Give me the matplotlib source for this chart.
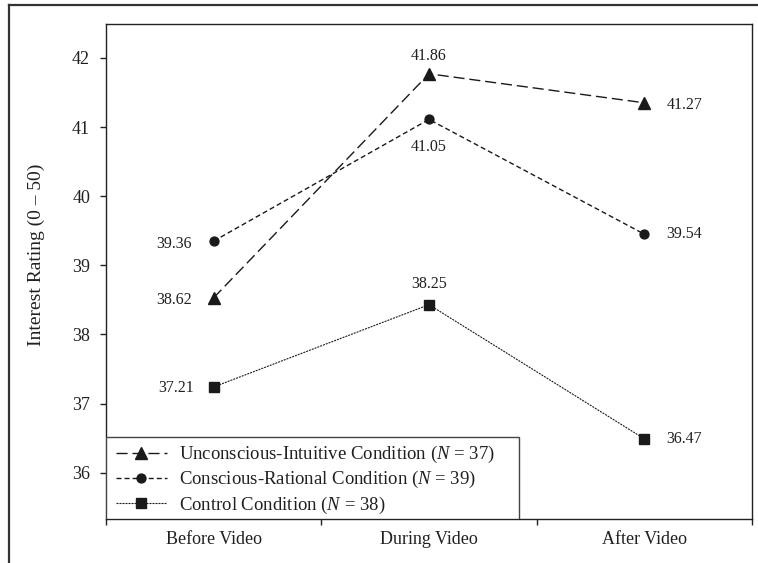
import matplotlib
matplotlib.use("Agg")
import matplotlib.pyplot as plt
from matplotlib.patches import Rectangle
from matplotlib.lines import Line2D

# ---- data ----
categories = ["Before Video", "During Video", "After Video"]
series_names = [
    "Unconscious-Intuitive Condition ($\\mathit{N}$ = 37)",
    "Conscious-Rational Condition ($\\mathit{N}$ = 39)",
    "Control Condition ($\\mathit{N}$ = 38)",
]
# plotted positions (as drawn in the figure)
unconscious = [38.53, 41.77, 41.35]
conscious = [39.35, 41.11, 39.45]
control = [37.24, 38.43, 36.49]
# printed value labels
unconscious_labels = ["38.62", "41.86", "41.27"]
conscious_labels = ["39.36", "41.05", "39.54"]
control_labels = ["37.21", "38.25", "36.47"]
yticks = [36, 37, 38, 39, 40, 41, 42]

plt.rcParams['font.family'] = ['Liberation Serif', 'DejaVu Serif']
plt.rcParams['mathtext.fontset'] = 'custom'
plt.rcParams['mathtext.it'] = 'Liberation Serif:italic'
plt.rcParams['mathtext.rm'] = 'Liberation Serif'
TXT = '#231f20'

fig = plt.figure(figsize=(7.58, 5.63), dpi=100)
W, H = 758, 563
ax = fig.add_axes([106 / W, 1 - 519 / H, (752 - 106) / W, (519 - 24) / H])

x = list(range(len(categories)))
styles = [
    dict(marker='^', ms=8.0, lw=1.0, dashes=(8, 3.5)),
    dict(marker='o', ms=6.4, lw=1.0, dashes=(3.6, 2.2)),
    dict(marker='s', ms=7.0, lw=0.8, dashes=(1.8, 0.9)),
]
all_series = [unconscious, conscious, control]
handles = []
for vals, st, name in zip(all_series, styles, series_names):
    ln, = ax.plot(x, vals, color='#1a1a1a', marker=st['marker'], ms=st['ms'],
                  lw=st['lw'], dashes=st['dashes'], mec='#1a1a1a', mfc='#1a1a1a',
                  label=name)
    handles.append(ln)

# value labels: (offset x px, offset y px, ha)
offsets = {
    0: [(-22, -2, 'right'), (-22, -3, 'right'), (-20, -1, 'right')],
    1: [(0, 18, 'center'), (0, -28, 'center'), (0, 21, 'center')],
    2: [(22, -2, 'left'), (22, 0, 'left'), (22, 0, 'left')],
}
all_labels = [unconscious_labels, conscious_labels, control_labels]
for si, (vals, labs) in enumerate(zip(all_series, all_labels)):
    for xi in x:
        dx, dy, ha = offsets[xi][si]
        ax.annotate(labs[xi], (xi, vals[xi]), xytext=(dx, dy),
                    textcoords='offset pixels', ha=ha, va='center',
                    fontsize=11.5, color=TXT)

ax.set_xlim(-0.5, 2.5)
ax.set_ylim(35.33, 42.49)
ax.set_yticks(yticks)
ax.set_yticklabels([str(t) for t in yticks])
ax.set_xticks([-0.5, 0.5, 1.5, 2.5])
ax.set_xticklabels([])
ax.set_xticks(x, minor=True)
ax.set_xticklabels(categories, minor=True)
ax.tick_params(axis='x', which='major', direction='out', length=4.5, width=1.0, color='#222')
ax.tick_params(axis='x', which='minor', length=0, pad=9, labelsize=13, labelcolor=TXT)
ax.tick_params(axis='y', direction='out', length=4.5, width=1.0, color='#222',
               pad=7, labelsize=13, labelcolor=TXT)
for sp in ax.spines.values():
    sp.set_linewidth(1.0)
    sp.set_color('#222')

ax.set_ylabel("Interest Rating (0 \u2013 50)", fontsize=14, color=TXT)
ax.yaxis.set_label_coords((45 - 106) / 646, (519 - 255) / 495)

# legend box
ax.add_patch(Rectangle((0, 0), (519 - 106) / 646, (519 - 437) / 495,
                       transform=ax.transAxes, fill=True, facecolor='white',
                       edgecolor='#444', lw=1.0, zorder=5))
leg = ax.legend(handles=handles, loc='upper left',
                bbox_to_anchor=((116 - 106) / 646, (519 - 444) / 495),
                frameon=False, fontsize=13.5, numpoints=1, handlelength=2.7,
                handletextpad=0.64, labelspacing=0.22, borderpad=0, borderaxespad=0)
leg.set_zorder(6)
for t in leg.get_texts():
    t.set_color(TXT)

# outer partial frame
fig.add_artist(Line2D([9 / W, 1], [1 - 5 / H, 1 - 5 / H], transform=fig.transFigure,
                      color='#333', lw=1.6))
fig.add_artist(Line2D([9 / W, 9 / W], [0, 1 - 5 / H], transform=fig.transFigure,
                      color='#333', lw=1.6))

fig.savefig("out.png", dpi=100)
